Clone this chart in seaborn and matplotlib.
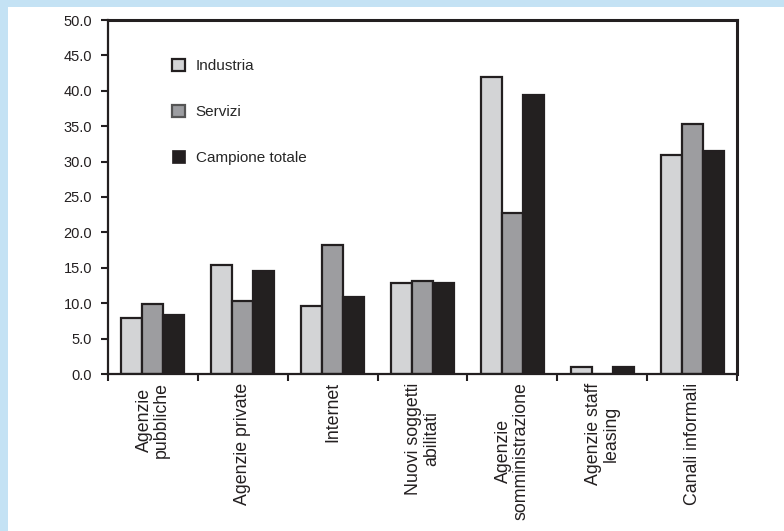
import numpy as np
import pandas as pd
import matplotlib
matplotlib.use("Agg")
import matplotlib.pyplot as plt
from matplotlib.patches import Patch, Rectangle
import seaborn as sns

# Canali di ricerca del personale (%)
categories = [
    "Agenzie\npubbliche",
    "Agenzie private",
    "Internet",
    "Nuovi soggetti\nabilitati",
    "Agenzie\nsomministrazione",
    "Agenzie staff\nleasing",
    "Canali informali",
]
series_names = ["Industria", "Servizi", "Campione totale"]
industria = [7.9, 15.4, 9.6, 12.8, 42.0, 1.0, 30.9]
servizi = [9.9, 10.3, 18.2, 13.1, 22.7, 0.0, 35.3]
campione_totale = [8.4, 14.5, 10.9, 12.9, 39.4, 1.0, 31.5]
y_ticks = [0, 5, 10, 15, 20, 25, 30, 35, 40, 45, 50]

colors = ["#d3d4d6", "#9c9da1", "#231f20"]
edge = "#231f20"

df = pd.DataFrame({
    "canale": categories * 3,
    "gruppo": np.repeat(series_names, len(categories)),
    "valore": industria + servizi + campione_totale,
})

sns.set_theme(style="ticks")
plt.rcParams["font.family"] = ["Liberation Sans", "DejaVu Sans"]

fig = plt.figure(figsize=(7.84, 5.31), dpi=100)
fig.patch.set_facecolor("white")
# light blue frame bands on the left and top edges
fig.patches.append(Rectangle((0, 0), 8 / 784, 1, transform=fig.transFigure,
                             facecolor="#c4e2f4", edgecolor="none", zorder=-1))
fig.patches.append(Rectangle((0, 1 - 7 / 531), 1, 7 / 531, transform=fig.transFigure,
                             facecolor="#c4e2f4", edgecolor="none", zorder=-1))

ax = fig.add_axes([108 / 784, 1 - 374 / 531, (737 - 108) / 784, (374 - 20) / 531])

sns.barplot(data=df, x="canale", y="valore", hue="gruppo", order=categories,
            hue_order=series_names, palette=colors, width=0.7, gap=0,
            edgecolor=edge, linewidth=1.6, legend=False, ax=ax)

ax.set_xlim(-0.5, len(categories) - 0.5)
ax.set_ylim(0, 50)
ax.set_yticks(y_ticks)
ax.set_yticklabels([f"{v:.1f}" for v in y_ticks], fontsize=10.5)
ax.set_xticks(range(len(categories)))
ax.set_xticklabels(categories, rotation=90, fontsize=12.8, ha="center",
                   va="top", multialignment="center", linespacing=1.05)
ax.set_xticks(np.arange(-0.5, len(categories)), minor=True)
ax.tick_params(axis="x", which="major", length=0, pad=6, colors="#231f20")
ax.tick_params(axis="x", which="minor", length=5, width=1.5, direction="out",
               color="#231f20")
ax.tick_params(axis="y", length=5, width=1.5, direction="out", color="#231f20",
               labelcolor="#231f20", pad=6.5)
ax.set_xlabel("")
ax.set_ylabel("")

for side in ["left", "right", "top", "bottom"]:
    ax.spines[side].set_visible(True)
    ax.spines[side].set_linewidth(1.6)
    ax.spines[side].set_color("#231f20")
ax.spines["top"].set_linewidth(2.2)
ax.spines["right"].set_linewidth(2.2)

handles = [
    Patch(facecolor=colors[0], edgecolor=edge, linewidth=1.6, label=series_names[0]),
    Patch(facecolor=colors[1], edgecolor="#555555", linewidth=1.6, label=series_names[1]),
    Patch(facecolor=colors[2], edgecolor=edge, linewidth=0.5, label=series_names[2]),
]
ax.legend(handles=handles, loc="upper left",
          bbox_to_anchor=((172 - 108) / 629, (374 - 59) / 354),
          frameon=False, fontsize=11, handlelength=0.85, handleheight=0.85,
          handletextpad=0.7, labelspacing=2.05, borderpad=0, borderaxespad=0)

fig.savefig("out.png", dpi=100, facecolor=fig.get_facecolor())
